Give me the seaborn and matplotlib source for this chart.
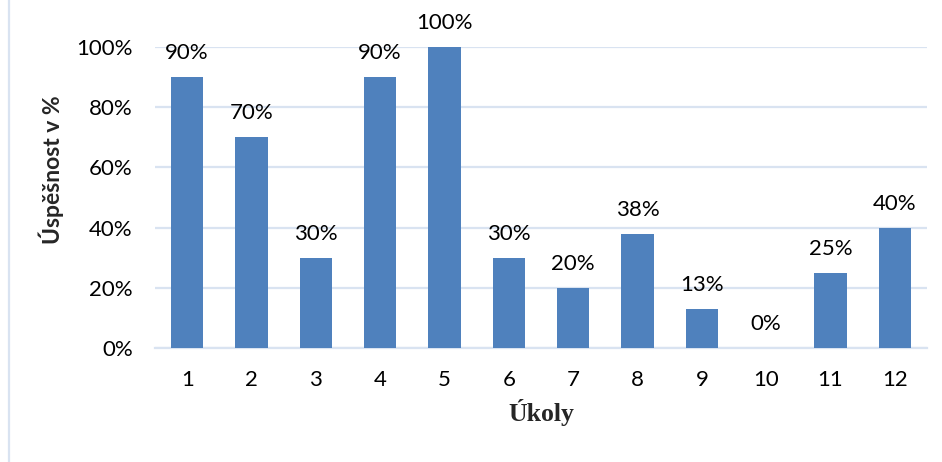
import matplotlib
matplotlib.use("Agg")
import matplotlib.pyplot as plt
from matplotlib.lines import Line2D
import seaborn as sns
import pandas as pd

# Task numbers and success rate per task (percent)
ukoly = ["1", "2", "3", "4", "5", "6", "7", "8", "9", "10", "11", "12"]
uspesnost = [90, 70, 30, 90, 100, 30, 20, 38, 13, 0, 25, 40]
y_ticks = [0, 20, 40, 60, 80, 100]

df = pd.DataFrame({"Úkol": ukoly, "Úspěšnost": uspesnost})

sns.set_theme(style="white")
plt.rcParams["font.family"] = ["Lato", "DejaVu Sans"]

bar_color = "#4F81BD"
grid_color = "#D9E3F1"

W, H = 942, 462
fig = plt.figure(figsize=(W / 100, H / 100), dpi=100)
ax = fig.add_axes([155 / W, 1 - 348 / H, (927 - 155) / W, (348 - 47) / H])

sns.barplot(data=df, x="Úkol", y="Úspěšnost", color=bar_color, width=0.5,
            saturation=1, ax=ax, zorder=3, linewidth=0)

ax.set_ylim(0, 100)
ax.set_xlim(-0.5, len(ukoly) - 0.5)
ax.set_yticks(y_ticks)
ax.set_yticklabels([f"{v}%" for v in y_ticks])
ax.yaxis.grid(True, color=grid_color, linewidth=1.6, zorder=0)
ax.set_axisbelow(True)

for side in ["top", "right", "left"]:
    ax.spines[side].set_visible(False)
ax.spines["bottom"].set_color(grid_color)
ax.spines["bottom"].set_linewidth(1.6)

ax.tick_params(axis="both", length=0, labelsize=16, colors="black")
ax.tick_params(axis="y", pad=16)
ax.tick_params(axis="x", pad=16)

# value labels above each bar
for i, v in enumerate(uspesnost):
    ax.annotate(f"{v}%", xy=(i, v), xytext=(0, 10), textcoords="offset points",
                ha="center", va="bottom", fontsize=16, color="black",
                annotation_clip=False)

ax.set_xlabel("")
ax.set_ylabel("")
fig.text(541 / W, 1 - 413 / H, "Úkoly", ha="center", va="center",
         fontsize=18.5, fontweight="bold",
         family=["Liberation Serif", "DejaVu Serif"])
fig.text(51 / W, 1 - 170 / H, "Úspěšnost v %", ha="center", va="center",
         rotation=90, fontsize=16.5, fontweight="bold")

# thin rule at the left edge of the figure
fig.add_artist(Line2D([8.5 / W, 8.5 / W], [0, 1], transform=fig.transFigure,
                      color=grid_color, linewidth=1.6))

fig.savefig("out.png", dpi=100)
